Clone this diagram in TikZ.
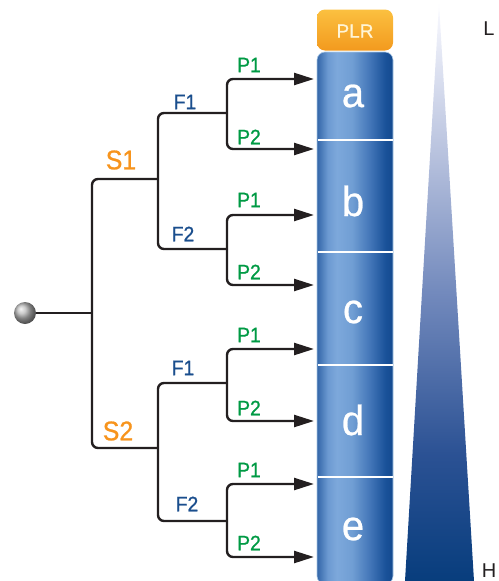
\documentclass[tikz,border=0pt]{standalone}
\usepackage{fontspec}
\setmainfont{Liberation Sans}
\newfontfamily\condfont[FakeStretch=0.92,FakeBold=0.9]{Liberation Sans}
\newfontfamily\letfont[FakeStretch=0.95,FakeBold=0.6]{Liberation Sans}
\newfontfamily\plrfont[FakeBold=0.7]{Liberation Sans}
\usetikzlibrary{arrows.meta}
\definecolor{sorange}{HTML}{F7941D}
\definecolor{fblue}{HTML}{1A4E8D}
\definecolor{pgreen}{HTML}{009A44}
\definecolor{linec}{HTML}{231F20}
\definecolor{plrtop}{HTML}{FBC040}
\definecolor{plrbot}{HTML}{F39A1E}
\pgfdeclarehorizontalshading{colshade}{100bp}{rgb(0bp)=(0.20,0.40,0.66); rgb(25bp)=(0.20,0.40,0.66); rgb(32bp)=(0.42,0.60,0.82); rgb(38bp)=(0.49,0.66,0.86); rgb(48bp)=(0.44,0.62,0.83); rgb(60bp)=(0.26,0.46,0.72); rgb(70bp)=(0.10,0.32,0.60); rgb(75bp)=(0.08,0.29,0.56); rgb(100bp)=(0.08,0.29,0.56)}
\pgfdeclareverticalshading{trishade}{100bp}{rgb(0bp)=(0.03,0.24,0.49); rgb(25bp)=(0.03,0.24,0.49); rgb(36bp)=(0.17,0.32,0.58); rgb(50bp)=(0.45,0.54,0.74); rgb(62bp)=(0.72,0.76,0.87); rgb(75bp)=(0.98,0.98,1); rgb(100bp)=(0.98,0.98,1)}
\tikzset{
  conn/.style={draw=linec, line width=2.4pt, rounded corners=6pt},
  arr/.style={conn, -{Triangle[length=20pt,width=12pt]}},
  slab/.style={text=sorange, font=\condfont\fontsize{27}{27}\selectfont, inner sep=0pt},
  flab/.style={text=fblue, font=\condfont\fontsize{21}{21}\selectfont, inner sep=0pt},
  plab/.style={text=pgreen, font=\condfont\fontsize{21}{21}\selectfont, inner sep=0pt},
  letter/.style={text=white, font=\letfont\fontsize{42}{42}\selectfont, inner sep=0pt},
  sep/.style={draw=white, line width=2pt},
  axlab/.style={text=linec, font=\fontsize{20}{20}\selectfont, inner sep=0pt}
}
\begin{document}
\begin{tikzpicture}[x=1pt,y=-1pt]
\useasboundingbox (0,0) rectangle (498,581);
% gradient triangle
\path[shading=trishade] (439,4) -- (474,581) -- (405,581) -- cycle;
\node[axlab] (L) at (489,29) {L};
\node[axlab] (H) at (489,571) {H};
% column
\path[shading=colshade, rounded corners=8pt] (317,52) rectangle (393,584);
\draw[draw={rgb,255:red,170;green,200;blue,230}, line width=0.6pt, rounded corners=8pt] (317,52) rectangle (393,584);
\foreach \yy in {140,252,365,477} \draw[sep] (317.5,\yy) -- (392.5,\yy);
\node[rounded corners=8pt, top color=plrtop, bottom color=plrbot, minimum width=76pt, minimum height=41pt, inner sep=0pt] (plr) at (355,30) {};
\node[text={rgb,255:red,255;green,245;blue,215}, font=\plrfont\fontsize{19}{19}\selectfont, inner sep=0pt] (plrt) at (355,31) {PLR};
\node[letter] (la) at (353,96) {a};
\node[letter] (lb) at (353,201) {b};
\node[letter] (lc) at (353,312) {c};
\node[letter] (ld) at (353,420) {d};
\node[letter] (le) at (353,529) {e};
% tree coordinates
\node[circle, ball color=gray!55, minimum size=22pt, inner sep=0pt] (ball) at (25,313) {};
\coordinate (t) at (92,313);
\coordinate (s1) at (158,179);
\coordinate (s2) at (158,448);
\coordinate (f11) at (227,113);
\coordinate (f12) at (227,249);
\coordinate (f21) at (227,383);
\coordinate (f22) at (227,521);
\coordinate (e1) at (314,79);
\coordinate (e2) at (314,149);
\coordinate (e3) at (314,215);
\coordinate (e4) at (314,285);
\coordinate (e5) at (314,349);
\coordinate (e6) at (314,421);
\coordinate (e7) at (314,484);
\coordinate (e8) at (314,557);
% connectors
\draw[conn] (ball.east) -- (t);
\draw[conn] (s1) -| (t) |- (s2);
\draw[conn] (f11) -| (s1) |- (f12);
\draw[conn] (f21) -| (s2) |- (f22);
\draw[arr] (f11) |- (e1);
\draw[arr] (f11) |- (e2);
\draw[arr] (f12) |- (e3);
\draw[arr] (f12) |- (e4);
\draw[arr] (f21) |- (e5);
\draw[arr] (f21) |- (e6);
\draw[arr] (f22) |- (e7);
\draw[arr] (f22) |- (e8);
% labels
\node[slab] (S1) at (121,160) {S1};
\node[slab] (S2) at (118,431) {S2};
\node[flab] (F1a) at (185,102) {F1};
\node[flab] (F2a) at (183,234) {F2};
\node[flab] (F1b) at (183,368) {F1};
\node[flab] (F2b) at (187,504) {F2};
\node[plab] (P1a) at (249,65) {P1};
\node[plab] (P2a) at (249,137) {P2};
\node[plab] (P1b) at (249,200) {P1};
\node[plab] (P2b) at (249,272) {P2};
\node[plab] (P1c) at (249,335) {P1};
\node[plab] (P2c) at (249,408) {P2};
\node[plab] (P1d) at (249,470) {P1};
\node[plab] (P2d) at (249,543) {P2};
\end{tikzpicture}
\end{document}
